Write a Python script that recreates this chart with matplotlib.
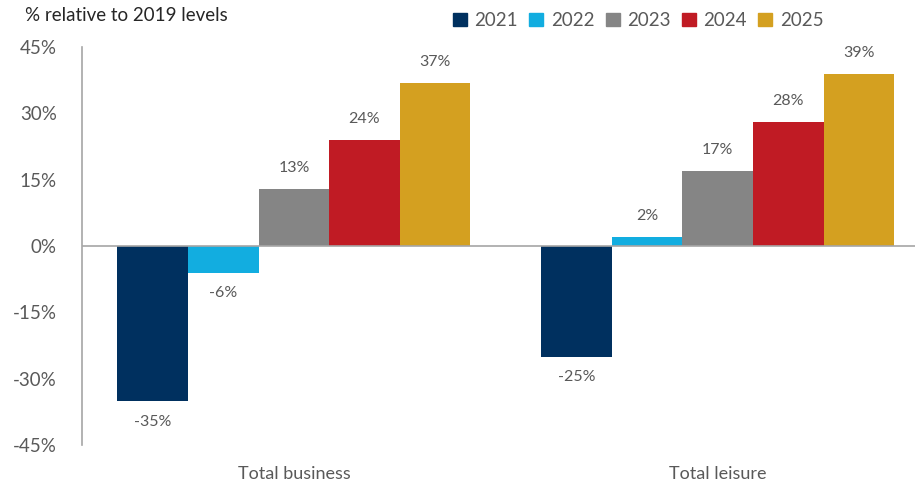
import numpy as np
import matplotlib.pyplot as plt
from matplotlib.patches import Patch

categories = ['Total business', 'Total leisure']
years = ['2021', '2022', '2023', '2024', '2025']
values = {
    '2021': [-35, -25],
    '2022': [-6, 2],
    '2023': [13, 17],
    '2024': [24, 28],
    '2025': [37, 39],
}
colors = ['#00305f', '#12ade0', '#858585', '#c01b24', '#d4a020']
yticks = [-45, -30, -15, 0, 15, 30, 45]

plt.rcParams['font.family'] = ['Lato', 'DejaVu Sans']
txt = '#595959'

fig = plt.figure(figsize=(9.17, 4.86), dpi=100)
ax = fig.add_axes([0.0894, 0.0844, 0.9086, 0.8186])

x = np.arange(len(categories))
w = 0.1665
for i, yr in enumerate(years):
    pos = x + (i - 2) * w
    bars = ax.bar(pos, values[yr], width=w, color=colors[i], zorder=2)
    for b, v in zip(bars, values[yr]):
        off = 10 if v >= 0 else -10
        ax.annotate('%d%%' % v, (b.get_x() + b.get_width() / 2, v),
                    xytext=(0, off), textcoords='offset points',
                    ha='center', va='bottom' if v >= 0 else 'top',
                    fontsize=11.5, color=txt)

ax.axhline(0, color='#a6a6a6', lw=1.2, zorder=3)
ax.set_xlim(-0.5, 1.466)
ax.set_ylim(-45, 45)
ax.set_yticks(yticks)
ax.set_yticklabels(['%d%%' % t for t in yticks])
ax.set_xticks(x)
ax.set_xticklabels(categories)
ax.tick_params(axis='y', length=0, pad=18, labelsize=13.5, labelcolor=txt)
ax.tick_params(axis='x', length=0, pad=15, labelsize=13, labelcolor=txt)
for s in ['top', 'right', 'bottom']:
    ax.spines[s].set_visible(False)
ax.spines['left'].set_color('#a6a6a6')
ax.spines['left'].set_linewidth(1.2)

fig.text(0.027, 0.985, '% relative to 2019 levels', fontsize=13.5,
         color='#262626', ha='left', va='top')

handles = [Patch(color=c, label=y) for c, y in zip(colors, years)]
fig.legend(handles=handles, loc='upper center', bbox_to_anchor=(0.696, 1.01),
           ncol=5, frameon=False, fontsize=13.5, handlelength=0.75,
           handleheight=0.75, handletextpad=0.4, columnspacing=0.6,
           labelcolor=txt)

fig.savefig('out.png', dpi=100)
